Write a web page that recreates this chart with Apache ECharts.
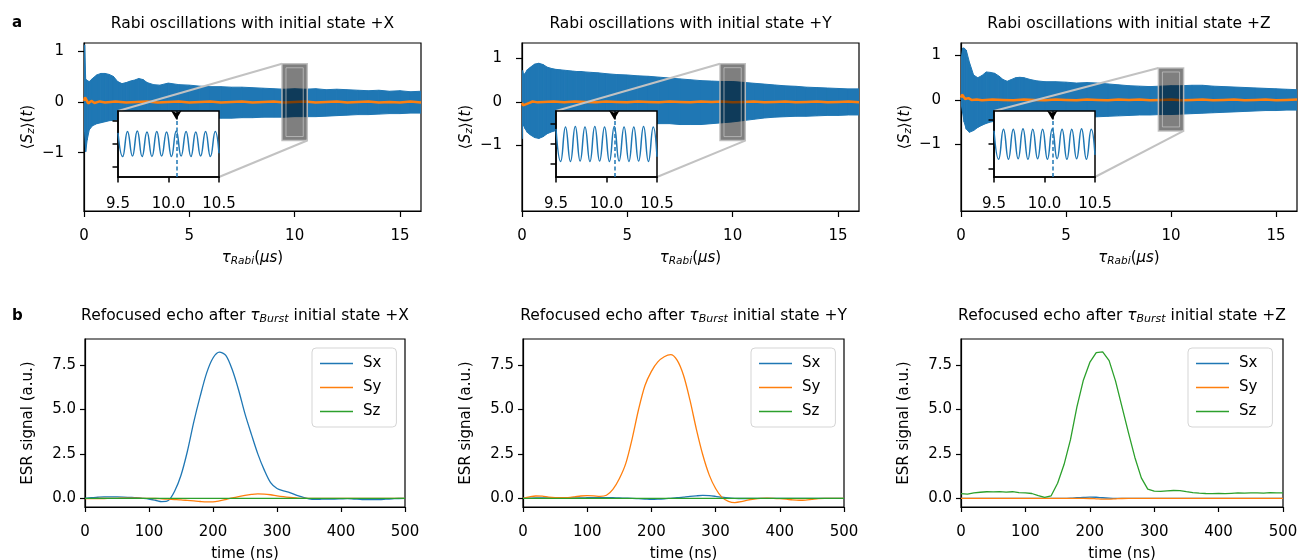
<!DOCTYPE html>
<html>
<head>
<meta charset="utf-8">
<script src="https://cdn.jsdelivr.net/npm/echarts@6/dist/echarts.min.js"></script>
<style>html,body{margin:0;padding:0;background:#fff}#c{width:1298px;height:560px}</style>
</head>
<body>
<div id="c"></div>
<script>
// ---------------- DATA ----------------
const rabiTime = [0, 0.03, 0.08, 0.15, 0.25, 0.4, 0.6, 0.8, 1.0, 1.2, 1.4, 1.6, 1.8, 2.0, 2.2, 2.4, 2.6, 2.8, 3.0, 3.3, 3.6, 4.0, 4.5, 5.0, 5.5, 6.0, 6.5, 7.0, 7.5, 8.0, 8.5, 9.0, 9.5, 10.0, 10.5, 11.0, 11.5, 12.0, 12.5, 13.0, 13.5, 14.0, 14.5, 15.0, 15.5, 16.0];
// envelope of the fast Rabi oscillation (upper / lower reach of the blue trace)
const rabiUpperX = [1.12, 1.12, 0.45, 0.42, 0.40, 0.46, 0.53, 0.56, 0.56, 0.54, 0.50, 0.40, 0.36, 0.38, 0.41, 0.43, 0.46, 0.44, 0.38, 0.34, 0.33, 0.37, 0.34, 0.33, 0.31, 0.30, 0.30, 0.29, 0.29, 0.28, 0.27, 0.26, 0.25, 0.26, 0.25, 0.26, 0.24, 0.25, 0.24, 0.23, 0.22, 0.23, 0.21, 0.22, 0.20, 0.21];
const rabiLowerX = [-0.20, -0.60, -0.98, -0.75, -0.55, -0.47, -0.43, -0.41, -0.39, -0.37, -0.36, -0.35, -0.35, -0.34, -0.35, -0.36, -0.37, -0.36, -0.34, -0.33, -0.33, -0.34, -0.33, -0.33, -0.32, -0.32, -0.32, -0.32, -0.31, -0.31, -0.30, -0.30, -0.30, -0.29, -0.29, -0.29, -0.28, -0.27, -0.26, -0.25, -0.25, -0.24, -0.23, -0.23, -0.22, -0.22];
const rabiUpperY = [0.70, 0.72, 0.62, 0.66, 0.74, 0.80, 0.87, 0.89, 0.86, 0.80, 0.77, 0.75, 0.74, 0.73, 0.72, 0.71, 0.70, 0.70, 0.69, 0.68, 0.67, 0.65, 0.63, 0.62, 0.60, 0.59, 0.57, 0.55, 0.53, 0.51, 0.49, 0.48, 0.47, 0.47, 0.45, 0.43, 0.41, 0.39, 0.37, 0.36, 0.34, 0.33, 0.32, 0.31, 0.30, 0.30];
const rabiLowerY = [-0.85, -0.50, -0.55, -0.62, -0.70, -0.76, -0.82, -0.84, -0.80, -0.73, -0.69, -0.66, -0.64, -0.63, -0.62, -0.61, -0.60, -0.59, -0.58, -0.57, -0.56, -0.55, -0.54, -0.53, -0.52, -0.51, -0.50, -0.50, -0.52, -0.52, -0.52, -0.50, -0.48, -0.46, -0.43, -0.40, -0.37, -0.35, -0.34, -0.33, -0.33, -0.32, -0.31, -0.31, -0.30, -0.30];
const rabiUpperZ = [0.75, 1.00, 1.17, 1.17, 1.12, 0.85, 0.56, 0.50, 0.55, 0.63, 0.62, 0.60, 0.54, 0.46, 0.42, 0.46, 0.50, 0.51, 0.50, 0.46, 0.43, 0.41, 0.41, 0.40, 0.38, 0.39, 0.38, 0.36, 0.34, 0.32, 0.31, 0.30, 0.31, 0.32, 0.32, 0.33, 0.33, 0.31, 0.30, 0.29, 0.28, 0.27, 0.26, 0.25, 0.24, 0.23];
const rabiLowerZ = [-0.10, -0.15, -0.30, -0.50, -0.66, -0.73, -0.69, -0.62, -0.57, -0.53, -0.50, -0.48, -0.47, -0.46, -0.45, -0.45, -0.44, -0.44, -0.43, -0.43, -0.42, -0.42, -0.41, -0.40, -0.40, -0.39, -0.38, -0.37, -0.36, -0.35, -0.34, -0.34, -0.33, -0.33, -0.32, -0.31, -0.30, -0.29, -0.28, -0.27, -0.26, -0.25, -0.24, -0.24, -0.23, -0.23];

// orange trace (near zero)
const orangeTime = [0, 0.05, 0.1, 0.2, 0.35, 0.5, 0.75, 1.0, 1.5, 2.0, 2.5, 3.0, 3.5, 4.0, 4.5, 5.0, 5.5, 6.0, 6.5, 7.0, 7.5, 8.0, 8.5, 9.0, 9.5, 10.0, 10.5, 11.0, 11.5, 12.0, 12.5, 13.0, 13.5, 14.0, 14.5, 15.0, 15.5, 16.0];
const orangeX = [0.02, 0.09, 0.05, -0.03, 0.02, -0.02, 0.01, -0.01, 0.01, -0.01, 0.00, 0.01, -0.01, 0.00, 0.01, -0.01, 0.00, 0.01, -0.01, 0.00, 0.01, -0.01, 0.00, 0.01, -0.01, 0.00, 0.01, -0.01, 0.00, 0.01, -0.01, 0.00, 0.01, -0.01, 0.00, -0.01, 0.01, -0.01];
const orangeY = [-0.02, -0.08, -0.10, -0.05, -0.02, 0.01, -0.01, 0.00, 0.01, -0.01, 0.01, 0.00, -0.01, 0.01, 0.00, -0.01, 0.01, 0.00, -0.01, 0.01, 0.00, -0.01, 0.01, 0.00, 0.01, -0.01, 0.00, 0.01, -0.01, 0.00, 0.01, -0.01, 0.00, 0.01, -0.01, 0.00, 0.01, -0.01];
const orangeZ = [0.05, 0.12, 0.08, 0.02, 0.04, 0.00, 0.01, -0.01, 0.01, 0.00, -0.01, 0.01, 0.00, -0.01, 0.01, 0.00, -0.01, 0.01, 0.00, -0.01, 0.01, 0.00, 0.01, -0.01, 0.00, 0.01, -0.01, 0.00, 0.01, -0.01, 0.00, 0.01, -0.01, 0.00, 0.01, -0.01, 0.00, 0.01];

// inset (zoom 9.5 - 10.5 us): extrema of the oscillation
const insetTime = [9.500, 9.546, 9.594, 9.643, 9.691, 9.739, 9.787, 9.836, 9.884, 9.932, 9.981, 10.029, 10.077, 10.125, 10.174, 10.222, 10.270, 10.318, 10.367, 10.415, 10.463, 10.500];
const insetX = [0.24, -0.27, 0.27, -0.26, 0.28, -0.27, 0.26, -0.27, 0.27, -0.26, 0.26, -0.27, 0.28, -0.26, 0.27, -0.27, 0.26, -0.26, 0.27, -0.27, 0.27, -0.20];
const insetY = [0.38, -0.44, 0.43, -0.44, 0.44, -0.43, 0.43, -0.44, 0.44, -0.43, 0.43, -0.44, 0.44, -0.43, 0.43, -0.44, 0.43, -0.43, 0.44, -0.44, 0.43, -0.32];
const insetZ = [0.27, -0.31, 0.30, -0.31, 0.30, -0.30, 0.31, -0.31, 0.30, -0.30, 0.30, -0.31, 0.31, -0.30, 0.30, -0.31, 0.30, -0.30, 0.31, -0.31, 0.30, -0.22];
const insetMarkTime = 10.077;
const insetHalfRange = [0.71, 0.83, 0.67];
// zoom box in main axes: [tStart, tEnd, yMin, yMax]
const zoomBoxX = [9.4, 10.6, -0.76, 0.75];
const zoomBoxY = [9.4, 10.6, -0.89, 0.88];
const zoomBoxZ = [9.4, 10.6, -0.70, 0.72];
const mainYRange = [[-2.146, 1.159], [-2.51, 1.356], [-2.505, 1.283]];

// refocused echo
const echoTime = [0, 10, 20, 30, 40, 50, 60, 70, 80, 90, 100, 110, 120, 130, 140, 150, 160, 170, 180, 190, 200, 210, 220, 230, 240, 250, 260, 270, 280, 290, 300, 310, 320, 330, 340, 350, 360, 370, 380, 390, 400, 410, 420, 430, 440, 450, 460, 470, 480, 490, 500];
const echoX_Sx = [0.00, 0.03, 0.06, 0.08, 0.08, 0.08, 0.07, 0.05, 0.03, 0.00, -0.04, -0.11, -0.19, -0.13, 0.40, 1.30, 2.65, 4.30, 5.75, 7.05, 7.90, 8.23, 8.05, 7.25, 6.10, 4.75, 3.60, 2.50, 1.60, 0.88, 0.55, 0.42, 0.32, 0.18, 0.07, -0.03, -0.06, -0.05, -0.04, -0.04, -0.03, -0.02, -0.04, -0.06, -0.08, -0.08, -0.07, -0.05, -0.03, -0.01, 0.00];
const echoX_Sy = [-0.02, -0.02, -0.01, -0.01, 0.00, 0.00, 0.01, 0.01, 0.01, 0.00, 0.00, -0.01, -0.03, -0.05, -0.07, -0.09, -0.12, -0.15, -0.18, -0.20, -0.20, -0.15, -0.07, 0.02, 0.10, 0.17, 0.22, 0.25, 0.24, 0.20, 0.14, 0.09, 0.05, 0.02, 0.00, 0.00, 0.00, 0.00, 0.00, 0.00, 0.00, 0.00, 0.00, 0.00, 0.00, 0.00, 0.00, 0.00, 0.00, 0.00, 0.00];
const echoX_Sz = [0.00, 0.00, 0.00, 0.00, 0.00, 0.00, 0.00, 0.00, 0.00, 0.00, 0.00, 0.00, 0.00, 0.00, 0.00, 0.00, 0.00, 0.00, 0.00, 0.00, 0.00, 0.00, 0.00, 0.00, 0.00, 0.00, 0.00, 0.00, 0.00, 0.00, 0.00, 0.00, 0.00, 0.00, 0.00, 0.00, 0.00, 0.00, 0.00, 0.00, 0.00, 0.00, 0.00, 0.00, 0.00, 0.00, 0.00, 0.00, 0.00, 0.00, 0.00];
const echoY_Sx = [0.00, 0.01, 0.02, 0.02, 0.02, 0.02, 0.02, 0.02, 0.02, 0.02, 0.03, 0.04, 0.04, 0.04, 0.03, 0.02, 0.01, 0.00, -0.02, -0.04, -0.06, -0.05, -0.03, 0.00, 0.03, 0.07, 0.11, 0.14, 0.16, 0.15, 0.11, 0.06, 0.02, 0.00, -0.01, -0.01, 0.00, 0.00, 0.00, 0.00, 0.00, 0.00, 0.00, 0.00, 0.00, 0.00, 0.00, 0.00, 0.00, 0.00, 0.00];
const echoY_Sy = [0.00, 0.08, 0.13, 0.12, 0.07, 0.04, 0.03, 0.04, 0.08, 0.13, 0.15, 0.14, 0.11, 0.17, 0.50, 1.10, 1.95, 3.35, 5.00, 6.35, 7.15, 7.68, 7.97, 8.09, 7.78, 6.93, 5.54, 3.90, 2.45, 1.32, 0.55, 0.05, -0.17, -0.24, -0.19, -0.10, -0.04, 0.00, 0.01, 0.00, -0.02, -0.05, -0.09, -0.11, -0.10, -0.06, -0.02, 0.00, 0.00, 0.00, 0.00];
const echoY_Sz = [0.00, 0.00, 0.00, 0.00, 0.00, 0.00, 0.00, 0.00, 0.00, 0.00, 0.00, 0.00, 0.00, 0.00, 0.00, 0.00, 0.00, 0.00, 0.00, 0.00, 0.00, 0.00, 0.00, 0.00, 0.00, 0.00, 0.00, 0.00, 0.00, 0.00, 0.00, 0.00, 0.00, 0.00, 0.00, 0.00, 0.00, 0.00, 0.00, 0.00, 0.00, 0.00, 0.00, 0.00, 0.00, 0.00, 0.00, 0.00, 0.00, 0.00, 0.00];
const echoZ_Sx = [0.00, 0.00, 0.00, 0.00, 0.00, 0.00, 0.00, 0.00, 0.00, 0.00, 0.00, 0.00, 0.00, 0.00, 0.00, 0.00, 0.00, 0.01, 0.03, 0.05, 0.07, 0.06, 0.03, 0.01, 0.00, 0.00, 0.00, 0.00, 0.00, 0.00, 0.00, 0.00, 0.00, 0.00, 0.00, 0.00, 0.00, 0.00, 0.00, 0.00, 0.00, 0.00, 0.00, 0.00, 0.00, 0.00, 0.00, 0.00, 0.00, 0.00, 0.00];
const echoZ_Sy = [0.00, 0.00, 0.00, 0.00, 0.00, 0.00, 0.00, 0.00, 0.00, 0.00, 0.00, 0.00, 0.00, 0.00, 0.00, 0.00, 0.00, 0.00, 0.00, 0.00, -0.01, -0.03, -0.05, -0.05, -0.03, -0.01, 0.00, 0.00, 0.00, 0.00, 0.00, 0.00, 0.00, 0.00, 0.00, 0.00, 0.00, 0.00, 0.00, 0.00, 0.00, 0.00, 0.00, 0.00, 0.00, 0.00, 0.00, 0.00, 0.00, 0.00, 0.00];
const echoZ_Sz = [0.26, 0.23, 0.30, 0.34, 0.37, 0.36, 0.38, 0.35, 0.37, 0.32, 0.30, 0.27, 0.15, 0.05, 0.14, 0.85, 1.90, 3.30, 5.15, 6.65, 7.65, 8.20, 8.25, 7.75, 6.60, 5.15, 3.70, 2.30, 1.15, 0.52, 0.40, 0.39, 0.42, 0.44, 0.43, 0.37, 0.32, 0.29, 0.27, 0.26, 0.27, 0.26, 0.28, 0.30, 0.29, 0.30, 0.31, 0.29, 0.32, 0.30, 0.31];

// ticks
const rabiTicksX = [0, 5, 10, 15];
const rabiTicksY = [-1, 0, 1];
const insetTicksX = [9.5, 10.0, 10.5];
const insetTicksY = [-0.5, 0, 0.5];
const echoTicksY = [0, 2.5, 5.0, 7.5];
const echoRangeY = [-0.49, 8.97];
const stateNames = ['+X', '+Y', '+Z'];
const legendNames = ['Sx', 'Sy', 'Sz'];

// ---------------- LAYOUT / STYLE ----------------
const FONT = 'DejaVu Sans';
const C = ['#1f77b4', '#ff7f0e', '#2ca02c'];
const mainLayout = [[84, 43, 337, 168], [522, 43, 337, 168], [961, 43, 336, 168]];
const insetLayout = [[118, 111, 101, 66], [556, 111, 101, 66], [994, 111, 101, 66]];
const echoLayout = [[85, 339, 320, 168], [523, 339, 321, 168], [961, 339, 322, 168]];
const legendLeft = [312, 751, 1188];

const upperAll = [rabiUpperX, rabiUpperY, rabiUpperZ];
const lowerAll = [rabiLowerX, rabiLowerY, rabiLowerZ];
const orangeAll = [orangeX, orangeY, orangeZ];
const insetAll = [insetX, insetY, insetZ];
const zoomBoxes = [zoomBoxX, zoomBoxY, zoomBoxZ];
const echoAll = [[echoX_Sx, echoX_Sy, echoX_Sz], [echoY_Sx, echoY_Sy, echoY_Sz], [echoZ_Sx, echoZ_Sy, echoZ_Sz]];

const txt = {fontFamily: FONT, fontSize: 15, color: '#000'};
const richModel = {
  n: {fontFamily: FONT, fontSize: 15, color: '#000', lineHeight: 18},
  i: {fontFamily: FONT, fontSize: 15, color: '#000', lineHeight: 18, fontStyle: 'italic'},
  s: {fontFamily: FONT, fontSize: 10.5, color: '#000', lineHeight: 8, fontStyle: 'italic', verticalAlign: 'bottom'}
};
const richGfx = {
  n: {fontFamily: FONT, fontSize: 15.5, fill: '#000', lineHeight: 18},
  i: {fontFamily: FONT, fontSize: 15.5, fill: '#000', lineHeight: 18, fontStyle: 'italic'},
  s: {fontFamily: FONT, fontSize: 11, fill: '#000', lineHeight: 8, fontStyle: 'italic', verticalAlign: 'bottom'}
};
const minusFmt = v => (v < 0 ? '\u2212' + Math.abs(v) : String(v));
const blackLine = {color: '#000', width: 1.2};

const grid = [], xAxis = [], yAxis = [], series = [], legend = [], graphic = [];

// main Rabi panels
for (let i = 0; i < 3; i++) {
  const [l, t, w, h] = mainLayout[i];
  grid.push({left: l, top: t, width: w, height: h, show: true, borderColor: '#000', borderWidth: 1.2,
    backgroundColor: 'transparent', containLabel: false, outerBoundsMode: 'none', z: 0});
  xAxis.push({gridIndex: i, type: 'value', min: 0, max: 16, splitLine: {show: false},
    axisLine: {show: true, onZero: false, lineStyle: blackLine},
    axisTick: {show: true, length: 6, customValues: rabiTicksX, lineStyle: blackLine},
    axisLabel: Object.assign({customValues: rabiTicksX, margin: 18}, txt),
    name: '{i|\u03c4}{s|Rabi}{n|(}{i|\u03bcs}{n|)}', nameLocation: 'middle', nameGap: 38,
    nameTextStyle: {rich: richModel}});
  yAxis.push({gridIndex: i, type: 'value', min: mainYRange[i][0], max: mainYRange[i][1], splitLine: {show: false},
    axisLine: {show: true, onZero: false, lineStyle: blackLine},
    axisTick: {show: true, length: 6, customValues: rabiTicksY, lineStyle: blackLine},
    axisLabel: Object.assign({customValues: rabiTicksY, margin: 20, formatter: minusFmt}, txt),
    name: '{n|\u27e8}{i|S}{s|z}{n|\u27e9(}{i|t}{n|)}', nameLocation: 'middle', nameRotate: 90, nameGap: 47,
    nameTextStyle: {rich: richModel}});

  // band of the fast oscillation: one quad per pair of consecutive envelope samples
  const up = upperAll[i], lo = lowerAll[i];
  const segs = rabiTime.slice(0, -1).map((tt, k) => [tt, rabiTime[k + 1], lo[k], up[k], lo[k + 1], up[k + 1]]);
  series.push({type: 'custom', name: 'rabi' + i, xAxisIndex: i, yAxisIndex: i, z: 2, silent: true, clip: true,
    data: segs, encode: {x: [0, 1], y: [2, 3]},
    renderItem: (params, api) => {
      const a = api.coord([api.value(0), api.value(3)]);
      const b = api.coord([api.value(1), api.value(5)]);
      const c = api.coord([api.value(1), api.value(4)]);
      const d = api.coord([api.value(0), api.value(2)]);
      return {type: 'polygon', shape: {points: [a, b, c, d]}, style: {fill: C[0], stroke: C[0], lineWidth: 1}};
    }});
  series.push({type: 'line', name: 'orange' + i, xAxisIndex: i, yAxisIndex: i, symbol: 'none', silent: true,
    lineStyle: {color: C[1], width: 2.5}, z: 3,
    data: orangeTime.map((tt, k) => [tt, orangeAll[i][k]])});
  const inL = insetLayout[i];
  series.push({type: 'custom', name: 'zoomBox' + i, xAxisIndex: i, yAxisIndex: i, z: 4, silent: true, clip: false,
    data: [zoomBoxes[i]], encode: {x: [0, 1], y: [2, 3]},
    renderItem: (params, api) => {
      const tl = api.coord([api.value(0), api.value(3)]);
      const br = api.coord([api.value(1), api.value(2)]);
      const w2 = br[0] - tl[0], h2 = br[1] - tl[1];
      return {type: 'group', children: [
        {type: 'rect', shape: {x: tl[0], y: tl[1], width: w2, height: h2},
          style: {fill: 'rgba(0,0,0,0.5)', stroke: 'rgba(190,190,190,0.9)', lineWidth: 1.5}},
        {type: 'rect', shape: {x: tl[0] + 4, y: tl[1] + 4, width: w2 - 8, height: h2 - 8},
          style: {fill: 'none', stroke: 'rgba(200,200,200,0.7)', lineWidth: 1}},
        {type: 'line', shape: {x1: inL[0], y1: inL[1], x2: tl[0], y2: tl[1]}, style: {stroke: '#c2c2c2', lineWidth: 2}},
        {type: 'line', shape: {x1: inL[0] + inL[2], y1: inL[1] + inL[3], x2: br[0], y2: br[1]}, style: {stroke: '#c2c2c2', lineWidth: 2}}
      ]};
    }});
}

// insets
for (let i = 0; i < 3; i++) {
  const [l, t, w, h] = insetLayout[i];
  const gi = 3 + i;
  const r = insetHalfRange[i];
  grid.push({left: l, top: t, width: w, height: h, show: true, borderColor: '#000', borderWidth: 1.5,
    backgroundColor: '#fff', containLabel: false, outerBoundsMode: 'none', z: 6});
  xAxis.push({gridIndex: gi, type: 'value', min: 9.5, max: 10.5, splitLine: {show: false}, z: 7,
    axisLine: {show: true, onZero: false, lineStyle: {color: '#000', width: 1.5}},
    axisTick: {show: true, length: 5.5, customValues: insetTicksX, lineStyle: {color: '#000', width: 1.5}},
    axisLabel: Object.assign({customValues: insetTicksX, margin: 20, formatter: v => v.toFixed(1)}, txt)});
  yAxis.push({gridIndex: gi, type: 'value', min: -r, max: r, splitLine: {show: false}, z: 7,
    axisLine: {show: true, onZero: false, lineStyle: {color: '#000', width: 1.5}},
    axisTick: {show: true, length: 5.5, customValues: insetTicksY, lineStyle: {color: '#000', width: 1.5}},
    axisLabel: {show: false}});
  series.push({type: 'line', name: 'inset' + i, xAxisIndex: gi, yAxisIndex: gi, symbol: 'none', smooth: true, silent: true,
    lineStyle: {color: C[0], width: 1.5}, z: 7,
    data: insetTime.map((tt, k) => [tt, insetAll[i][k]]),
    markLine: {silent: true, animation: false, z: 8, symbol: ['none', 'none'], label: {show: false},
      data: [
        {xAxis: insetMarkTime, lineStyle: {color: C[0], type: [4, 2.5], width: 1.5}},
        [{coord: [insetMarkTime, r], symbol: 'none', lineStyle: {color: '#000', type: 'solid', width: 1.5}},
         {coord: [insetMarkTime, r * 0.74], symbol: 'arrow', symbolSize: [8, 9]}]
      ]}});
}

// echo panels
for (let i = 0; i < 3; i++) {
  const [l, t, w, h] = echoLayout[i];
  const gi = 6 + i;
  grid.push({left: l, top: t, width: w, height: h, show: true, borderColor: '#000', borderWidth: 1.2,
    backgroundColor: 'transparent', containLabel: false, outerBoundsMode: 'none', z: 0});
  xAxis.push({gridIndex: gi, type: 'value', min: 0, max: 500, interval: 100, splitLine: {show: false},
    axisLine: {show: true, onZero: false, lineStyle: blackLine},
    axisTick: {show: true, length: 5, lineStyle: blackLine},
    axisLabel: Object.assign({margin: 18}, txt),
    name: 'time (ns)', nameLocation: 'middle', nameGap: 40, nameTextStyle: txt});
  yAxis.push({gridIndex: gi, type: 'value', min: echoRangeY[0], max: echoRangeY[1], splitLine: {show: false},
    axisLine: {show: true, onZero: false, lineStyle: blackLine},
    axisTick: {show: true, length: 5, customValues: echoTicksY, lineStyle: blackLine},
    axisLabel: Object.assign({customValues: echoTicksY, margin: 9, formatter: v => v.toFixed(1)}, txt),
    name: 'ESR signal (a.u.)', nameLocation: 'middle', nameRotate: 90, nameGap: 49, nameTextStyle: txt});
  for (let s = 0; s < 3; s++) {
    series.push({type: 'line', name: legendNames[s], xAxisIndex: gi, yAxisIndex: gi, symbol: 'none', silent: true,
      smooth: (i === 2 && s === 2) ? false : 0.3, color: C[s], lineStyle: {color: C[s], width: 1.3}, z: 2 + s,
      data: echoTime.map((tt, k) => [tt, echoAll[i][s][k]])});
  }
  legend.push({data: legendNames, orient: 'vertical', left: legendLeft[i], top: 348, icon: 'rect',
    itemWidth: 33, itemHeight: 1.6, itemGap: 9, padding: [8, 15, 8, 8], borderColor: '#d5d5d5', borderWidth: 1, borderRadius: 4,
    backgroundColor: 'rgba(255,255,255,0.8)', selectedMode: false,
    textStyle: Object.assign({padding: [0, 0, 0, 5], lineHeight: 15}, txt)});
}

// titles and panel letters
for (let i = 0; i < 3; i++) {
  const [l, , w] = mainLayout[i];
  graphic.push({type: 'text', x: l + w / 2, y: 24, z: 10, silent: true,
    style: {text: 'Rabi oscillations with initial state ' + stateNames[i], fontFamily: FONT, fontSize: 15.5, fill: '#000', align: 'center', verticalAlign: 'middle'}});
  const [l2, , w2] = echoLayout[i];
  graphic.push({type: 'text', x: l2 + w2 / 2, y: 316, z: 10, silent: true,
    style: {text: '{n|Refocused echo after }{i|\u03c4}{s|Burst}{n| initial state ' + stateNames[i] + '}', rich: richGfx,
      fontFamily: FONT, fontSize: 15.5, fill: '#000', align: 'center', verticalAlign: 'middle'}});
}
graphic.push({type: 'text', x: 12, y: 23, z: 10, silent: true,
  style: {text: 'a', fontFamily: FONT, fontSize: 15, fontWeight: 'bold', fill: '#000', align: 'left', verticalAlign: 'middle'}});
graphic.push({type: 'text', x: 12, y: 316, z: 10, silent: true,
  style: {text: 'b', fontFamily: FONT, fontSize: 15, fontWeight: 'bold', fill: '#000', align: 'left', verticalAlign: 'middle'}});

const chart = echarts.init(document.getElementById('c'), null, {renderer: 'canvas'});
chart.setOption({
  animation: false,
  backgroundColor: '#fff',
  textStyle: {fontFamily: FONT},
  grid, xAxis, yAxis, series, legend,
  graphic: {elements: graphic}
});
</script>
</body>
</html>
